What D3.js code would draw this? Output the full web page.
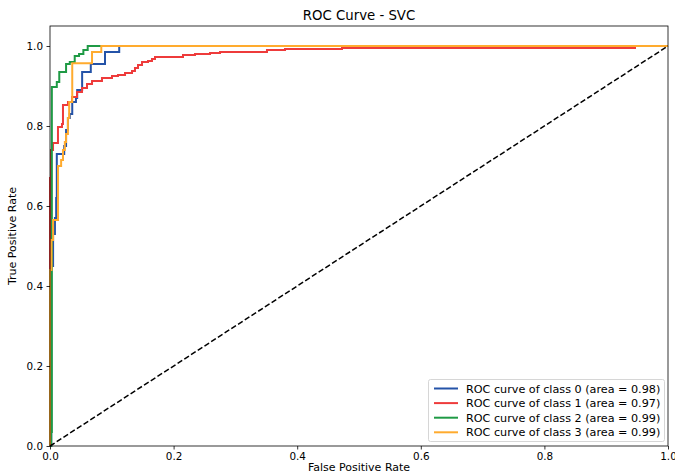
<!DOCTYPE html>
<html><head><meta charset="utf-8">
<script src="https://cdn.jsdelivr.net/npm/d3@7"></script>
<style>body{margin:0;background:#fff}svg{display:block;font-family:"DejaVu Sans",sans-serif}</style>
</head><body><svg id="c" width="675" height="475"></svg>
<script>
const classNames = ["ROC curve of class 0 (area = 0.98)","ROC curve of class 1 (area = 0.97)","ROC curve of class 2 (area = 0.99)","ROC curve of class 3 (area = 0.99)"];
const colors = ["#2453a8","#ee3b3b","#1f9a45","#ffab2e"];
const xTicks = [0,0.2,0.4,0.6,0.8,1.0];
const yTicks = [0,0.2,0.4,0.6,0.8,1.0];

const fpr0 = [0,0.002,0.005,0.008,0.010,0.011,0.023,0.026,0.029,0.032,0.036,0.042,0.044,0.052,0.066,0.089,0.112,1];
const tpr0 = [0,0.45,0.53,0.57,0.62,0.73,0.75,0.79,0.82,0.83,0.86,0.87,0.89,0.935,0.955,0.985,1,1];

const fpr1 = [0,0,0.0016,0.0049,0.0129,0.0194,0.0210,0.0291,0.0356,0.0437,0.0518,0.0599,0.0680,0.0841,0.1003,0.1100,0.1214,0.1327,0.1375,0.1424,0.1489,0.1586,0.1650,0.1699,0.2152,0.2346,0.2589,0.2751,0.3511,0.3803,0.4725,0.9466,1];
const tpr1 = [0,0.67,0.74,0.7575,0.7975,0.805,0.8525,0.86,0.8725,0.885,0.895,0.905,0.9125,0.92,0.925,0.9275,0.9325,0.9375,0.945,0.9525,0.96,0.9625,0.9675,0.9725,0.9775,0.98,0.9825,0.985,0.99,0.9925,0.995,1,1];

const fpr2 = [0,0.002,0.003,0.011,0.015,0.026,0.032,0.040,0.047,0.054,0.061,1];
const tpr2 = [0,0.035,0.8975,0.91,0.935,0.955,0.96,0.975,0.98,0.99,1,1];

const fpr3 = [0,0,0.0024,0.005,0.013,0.018,0.021,0.024,0.026,0.029,0.031,0.036,0.068,0.083,1];
const tpr3 = [0,0.44,0.515,0.565,0.70,0.715,0.74,0.76,0.78,0.82,0.86,0.957,0.985,1,1];

const fprs = [fpr0,fpr1,fpr2,fpr3];
const tprs = [tpr0,tpr1,tpr2,tpr3];

const svg = d3.select("#c");
const m = {l:50, r:668, t:26, b:446};
const x = d3.scaleLinear().domain([0,1]).range([m.l,m.r]);
const y = d3.scaleLinear().domain([0,1.05]).range([m.b,m.t]);

const g = svg.append("g");
const line = d3.line().x(d=>x(d[0])).y(d=>y(d[1])).curve(d3.curveStepAfter);
fprs.forEach((f,i)=>{
  const pts = f.map((v,j)=>[v,tprs[i][j]]);
  g.append("path").attr("d",line(pts)).attr("fill","none").attr("stroke",colors[i]).attr("stroke-width",2).attr("stroke-linejoin","miter");
});
g.append("path").attr("d",d3.line().x(d=>x(d[0])).y(d=>y(d[1]))([[0,0],[1,1]]))
 .attr("fill","none").attr("stroke","#000").attr("stroke-width",1.5).attr("stroke-dasharray","5.5,2.5");

// axes
const xa = svg.append("g").attr("transform",`translate(0,${m.b})`)
  .call(d3.axisBottom(x).tickValues(xTicks).tickFormat(d3.format(".1f")).tickSizeOuter(0).tickSize(3.5).tickPadding(3.5));
const ya = svg.append("g").attr("transform",`translate(${m.l},0)`)
  .call(d3.axisLeft(y).tickValues(yTicks).tickFormat(d3.format(".1f")).tickSizeOuter(0).tickSize(3.5).tickPadding(3.5));
[xa,ya].forEach(a=>{
  a.select(".domain").remove();
  a.selectAll("text").attr("font-size",10.4).attr("font-family","DejaVu Sans").attr("fill","#000");
  a.selectAll("line").attr("stroke","#000").attr("stroke-width",0.8);
});
svg.append("rect").attr("x",m.l).attr("y",m.t).attr("width",m.r-m.l).attr("height",m.b-m.t)
  .attr("fill","none").attr("stroke","#000").attr("stroke-width",0.8);

svg.append("text").attr("x",(m.l+m.r)/2).attr("y",20).attr("text-anchor","middle").attr("font-size",13.3).text("ROC Curve - SVC");
svg.append("text").attr("x",(m.l+m.r)/2).attr("y",471).attr("text-anchor","middle").attr("font-size",11).text("False Positive Rate");
svg.append("text").attr("transform",`translate(16,${(m.t+m.b)/2}) rotate(-90)`).attr("text-anchor","middle").attr("font-size",11).text("True Positive Rate");

// legend
const lg = svg.append("g");
lg.append("rect").attr("x",428.5).attr("y",379.5).attr("width",236).attr("height",62).attr("rx",2)
  .attr("fill","#fff").attr("fill-opacity",0.8).attr("stroke","#ccc").attr("stroke-width",0.8);
classNames.forEach((n,i)=>{
  const yy = 388.5 + i*14.6;
  lg.append("line").attr("x1",434).attr("x2",458).attr("y1",yy).attr("y2",yy).attr("stroke",colors[i]).attr("stroke-width",2);
  lg.append("text").attr("x",466).attr("y",yy+4).attr("font-size",11.2).text(n);
});
</script></body></html>
